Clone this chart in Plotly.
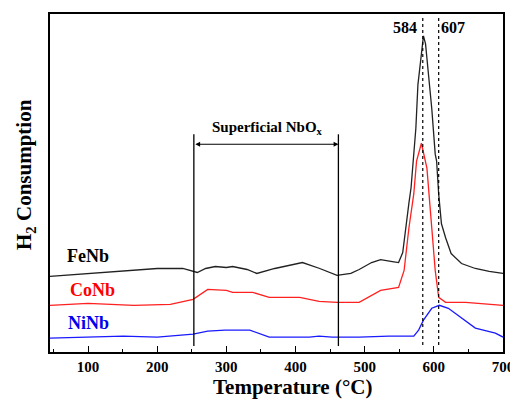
import plotly.graph_objects as go

# FeNb (black)
fe_T = [45, 100, 150, 200, 237, 253, 258, 270, 284, 300, 309, 330, 344, 370, 410, 435, 460, 480, 492, 510, 523, 540, 549,
        555, 559, 564, 567, 571, 574, 577, 581, 585, 588, 591, 597, 602, 604, 607, 611, 617, 625, 640, 660, 680, 700]
fe_y = [76, 79, 82, 84, 84, 81, 80, 84, 86, 85, 86, 83, 79, 84, 90, 84, 77, 79, 83, 90, 93, 91, 90,
        100, 125, 150, 165, 195, 225, 269, 295, 318, 310, 289, 245, 199, 192, 159, 129, 115, 99, 89, 84, 81, 79]

# CoNb (red)
co_T = [45, 100, 166, 219, 252, 262, 273, 300, 309, 338, 362, 406, 434, 460, 492, 523, 549,
        557, 564, 571, 575, 582, 588, 590, 597, 602, 607, 617, 646, 679, 700]
co_y = [47, 49, 47, 48, 53, 58, 63, 62, 60, 60, 55, 55, 51, 50, 50, 62, 65,
        82, 125, 159, 192, 210, 192, 185, 125, 82, 55, 50, 50, 48, 47]

# NiNb (blue)
ni_T = [45, 100, 151, 200, 233, 252, 273, 298, 334, 362, 420, 434, 453, 492, 535, 571,
        578, 585, 597, 608, 621, 640, 660, 689, 700]
ni_y = [14, 15, 16, 15, 17, 18, 21, 22, 22, 15, 15, 16, 15, 15, 16, 16,
        22, 32, 44, 47, 44, 34, 24, 19, 15]

region_bounds = [253, 462]
peak_positions = [584, 607]
peak_labels = ["584", "607"]
x_ticks = [100, 200, 300, 400, 500, 600, 700]
x_tick_labels = ["100", "200", "300", "400", "500", "600", "700"]

FONT = "Times New Roman, Liberation Serif, serif"

fig = go.Figure()
fig.add_trace(go.Scatter(x=fe_T, y=fe_y, mode="lines", line=dict(color="#222222", width=1.3), showlegend=False))
fig.add_trace(go.Scatter(x=co_T, y=co_y, mode="lines", line=dict(color="#ff2020", width=1.3), showlegend=False))
fig.add_trace(go.Scatter(x=ni_T, y=ni_y, mode="lines", line=dict(color="#1a1aff", width=1.3), showlegend=False))

shapes = []
for xb in region_bounds:
    shapes.append(dict(type="line", xref="x", yref="y", x0=xb, x1=xb, y0=6, y1=219,
                       line=dict(color="black", width=1.3)))
for xp in peak_positions:
    shapes.append(dict(type="line", xref="x", yref="y", x0=xp, x1=xp, y0=7, y1=337,
                       line=dict(color="black", width=1.2, dash="dot")))

annotations = []
annotations.append(dict(x=region_bounds[1], y=209, ax=region_bounds[0], ay=209, xref="x", yref="y",
                        axref="x", ayref="y", showarrow=True, arrowhead=2, arrowside="end+start",
                        arrowsize=0.8, arrowwidth=1.2, arrowcolor="black", text=""))
annotations.append(dict(x=359, y=225, xref="x", yref="y", text="<b>Superficial NbO<sub>x</sub></b>",
                        showarrow=False, font=dict(family=FONT, size=15, color="black")))
for xp, lab, xt in zip(peak_positions, peak_labels, [559, 628]):
    annotations.append(dict(x=xt, y=326, xref="x", yref="y", text="<b>%s</b>" % lab, showarrow=False,
                            font=dict(family=FONT, size=16, color="black")))
for name, xt, yt, col in [("FeNb", 100, 97, "black"), ("CoNb", 106, 62, "#ff0000"), ("NiNb", 100, 29, "#0000ee")]:
    annotations.append(dict(x=xt, y=yt, xref="x", yref="y", text="<b>%s</b>" % name, showarrow=False,
                            font=dict(family=FONT, size=18, color=col)))
annotations.append(dict(x=0.536, y=-0.103, xref="paper", yref="paper", text="<b>Temperature (°C)</b>",
                        showarrow=False, yanchor="middle", font=dict(family=FONT, size=21, color="black")))
annotations.append(dict(x=-0.055, y=0.524, xref="paper", yref="paper", text="<b>H<sub>2</sub> Consumption</b>",
                        showarrow=False, textangle=-90, xanchor="center", yanchor="middle",
                        font=dict(family=FONT, size=21, color="black")))

fig.update_layout(
    width=510, height=396,
    margin=dict(l=42, r=13, t=4, b=52),
    paper_bgcolor="white", plot_bgcolor="white",
    shapes=shapes, annotations=annotations,
    xaxis=dict(range=[45, 700], tickmode="array", tickvals=x_ticks,
               ticktext=["<b>%s</b>" % t for t in x_tick_labels],
               ticks="inside", ticklen=6,
               tickcolor="black", tickwidth=1, showline=True, linecolor="black", linewidth=1.5,
               mirror=True, showgrid=False, zeroline=False,
               tickfont=dict(family=FONT, size=15, color="black"),
               minor=dict(tickvals=[50, 150, 250, 350, 450, 550, 650], ticks="inside", ticklen=3,
                          tickcolor="black", showgrid=False)),
    yaxis=dict(range=[0, 340], showticklabels=False, ticks="", showline=True, linecolor="black",
               linewidth=1.5, mirror=True, showgrid=False, zeroline=False),
)

fig.write_html("out.html")
